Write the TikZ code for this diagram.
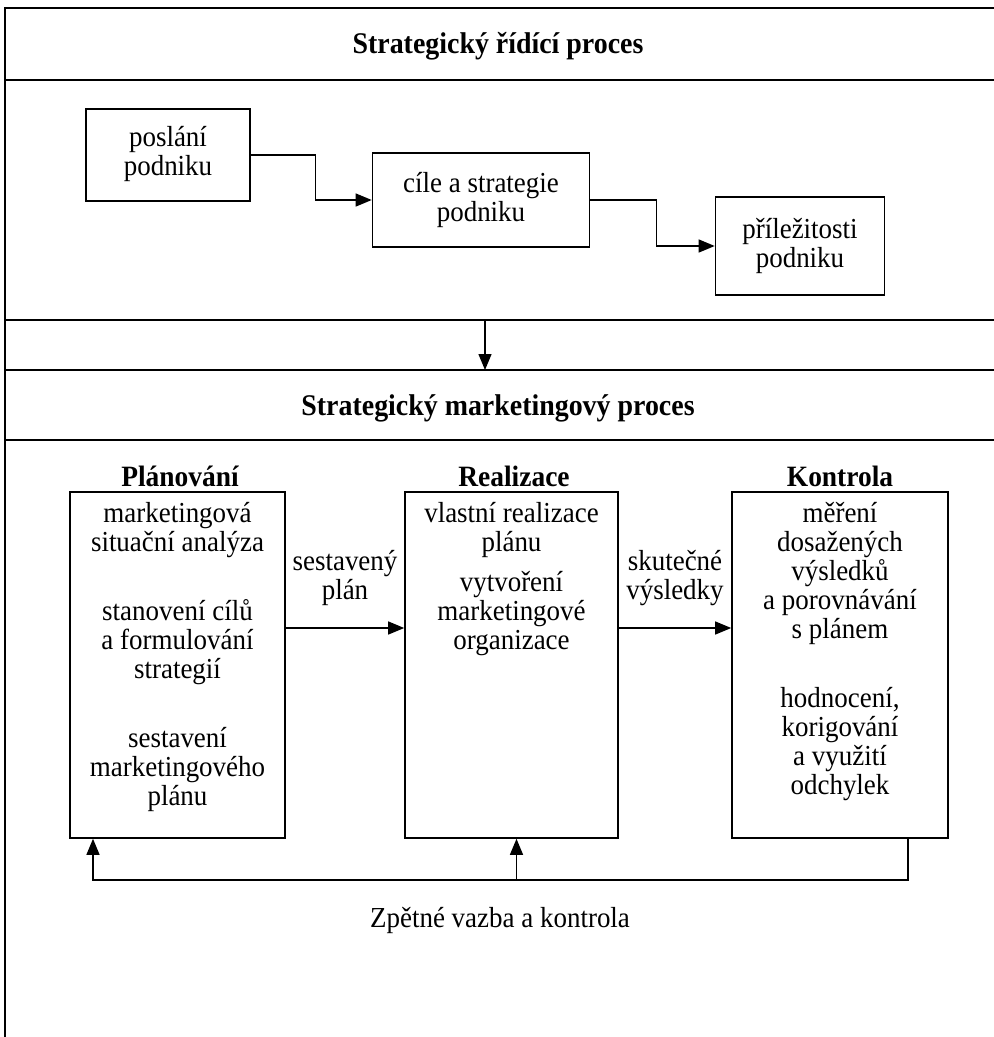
\documentclass[tikz,border=0pt]{standalone}
\usepackage{fontspec}
\setmainfont[FakeStretch=0.93]{Liberation Serif}
\usetikzlibrary{arrows.meta,calc}
\begin{document}
\begin{tikzpicture}[x=1pt,y=-1pt,
  every node/.style={font=\fontsize{29}{29}\selectfont},
  box/.style={draw,line width=1.6pt,inner sep=0pt,align=center},
  txt/.style={align=center,inner sep=0pt},
  head/.style={font=\fontsize{29.5}{29}\selectfont\bfseries,inner sep=0pt},
  bandtitle/.style={font=\fontsize{30}{32}\selectfont\bfseries,inner sep=0pt},
  frame/.style={line width=1.8pt},
  link/.style={line width=1.3pt,-{Triangle[length=16pt,width=13pt]}},
]
\useasboundingbox (0,0) rectangle (994,1037);

% outer frame and band separators
\draw[frame] (5,1040) -- (5,8) -- (1000,8);
\foreach \yy in {80,320,370,440} \draw[frame] (5,\yy) -- (1000,\yy);

% band 1: strategic management process
\node[bandtitle] (t1) at (498,46) {Strategický řídící proces};

\node[box,minimum width=164pt,minimum height=92pt] (mise) at (168,155) {};
\node[txt] (misetext) at ([yshift=1.5pt]mise.center) {poslání\\podniku};
\node[box,minimum width=217pt,minimum height=94pt] (cile) at (481,200) {cíle a strategie\\podniku};
\node[box,minimum width=169pt,minimum height=98pt] (prile) at (800,246) {příležitosti\\podniku};

\draw[link] (mise.east) -- ++(65,0) |- (cile.west);
\draw[link] (cile.east) -- ++(66,0) |- (prile.west);

% link down to the marketing process
\coordinate (upper) at (485,320);
\coordinate (lower) at (485,370);
\draw[link] (upper) -- (lower);

% band 2: strategic marketing process
\node[bandtitle] (t2) at (498,408) {Strategický marketingový proces};

\node[head] (h1) at (180,476) {Plánování};
\node[head] (h2) at (514,476) {Realizace};
\node[head] (h3) at (840,476) {Kontrola};

\node[box,minimum width=215pt,minimum height=346pt] (plan) at (177.5,665) {};
\node[box,minimum width=213pt,minimum height=346pt] (real) at (511.5,665) {};
\node[box,minimum width=216pt,minimum height=346pt] (kont) at (840,665) {};

\node[txt,anchor=north] (p1) at (177.5,502) {marketingová\\situační analýza\\[40pt]stanovení cílů\\a formulování\\strategií\\[40pt]sestavení\\marketingového\\plánu};
\node[txt,anchor=north] (r1) at (511.5,502) {vlastní realizace\\plánu\\[11pt]vytvoření\\marketingové\\organizace};
\node[txt,anchor=north] (k1) at (840,502) {měření\\dosažených\\výsledků\\a porovnávání\\s plánem\\[40pt]hodnocení,\\korigování\\a využití\\odchylek};

\node[txt] (l1) at (345,578) {sestavený\\plán};
\node[txt] (l2) at (675,578) {skutečné\\výsledky};

\draw[link] ([yshift=37pt]plan.east) -- ([yshift=37pt]real.west);
\draw[link] ([yshift=37pt]real.east) -- ([yshift=37pt]kont.west);

% feedback loop
\coordinate (fb) at (0,880);
\draw[link] ([xshift=68pt]kont.south) |- ([xshift=-84.5pt]plan.south |- fb) -- ([xshift=-84.5pt]plan.south);
\draw[link] ([xshift=5pt]real.south |- fb) -- ([xshift=5pt]real.south);

\node (fbtext) at (500,920) {Zpětné vazba a kontrola};
\end{tikzpicture}
\end{document}
